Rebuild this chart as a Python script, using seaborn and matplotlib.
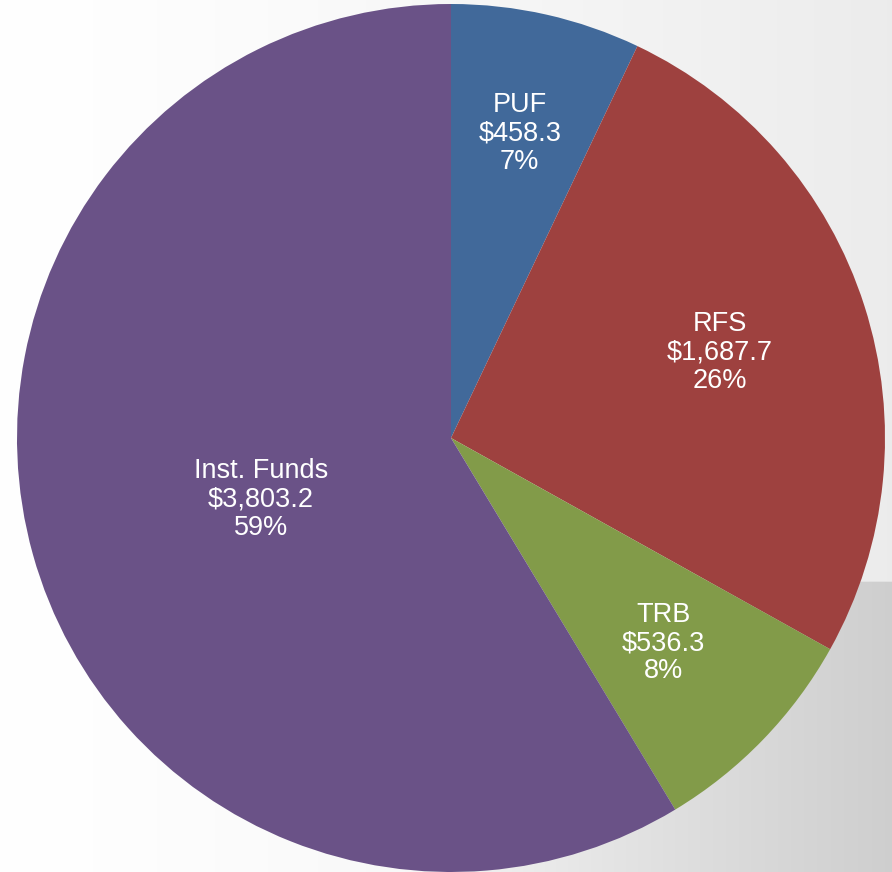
import numpy as np
import matplotlib
matplotlib.use("Agg")
import matplotlib.pyplot as plt
import seaborn as sns

# budget split (values in $ millions)
categories = ["PUF", "RFS", "TRB", "Inst. Funds"]
amounts = [458.3, 1687.7, 536.3, 3803.2]
amount_labels = ["$458.3", "$1,687.7", "$536.3", "$3,803.2"]
pct_labels = ["7%", "26%", "8%", "59%"]

colors = ["#41699a", "#9e413f", "#829b49", "#6a5287"]
label_dist = [0.72, 0.65, 0.68, 0.46]

sns.set_theme(style="white")
plt.rcParams["font.family"] = ["Liberation Sans", "DejaVu Sans"]

fig = plt.figure(figsize=(8.92, 8.72), dpi=100)

# slide-like background: light gray wash on the right, darker panel bottom right
H, W = 872, 892
xx = np.linspace(0, 1, W)[None, :].repeat(H, axis=0)
yy = np.linspace(0, 1, H)[:, None].repeat(W, axis=1)
bg = 1.0 - 0.075 * xx ** 1.3
panel = (yy >= 582 / H)
ramp = np.clip((xx - 0.4) / 0.6, 0, 1)
bg = np.where(panel, np.minimum(bg, 1.0 - 0.19 * ramp ** 0.8), bg)
bg_ax = fig.add_axes([0, 0, 1, 1], zorder=0)
bg_ax.imshow(np.dstack([bg, bg, bg]), aspect="auto", interpolation="bilinear")
bg_ax.axis("off")

ax = fig.add_axes([17 / W, 0, 868 / W, 868 / H], zorder=1)
wedges, _ = ax.pie(amounts, colors=colors, startangle=90, counterclock=False,
                   radius=1, wedgeprops=dict(linewidth=0))

for w, cat, amt, pct, d in zip(wedges, categories, amount_labels, pct_labels, label_dist):
    ang = np.deg2rad((w.theta1 + w.theta2) / 2)
    if cat == "Inst. Funds":
        ang = np.deg2rad(198)
    ax.text(d * np.cos(ang), d * np.sin(ang), f"{cat}\n{amt}\n{pct}",
            ha="center", va="center", color="white", fontsize=19.5,
            linespacing=1.12)

ax.set_xlim(-1, 1)
ax.set_ylim(-1, 1)
ax.set_aspect("equal")
ax.axis("off")
ax.patch.set_alpha(0)

fig.savefig("out.png", dpi=100)
